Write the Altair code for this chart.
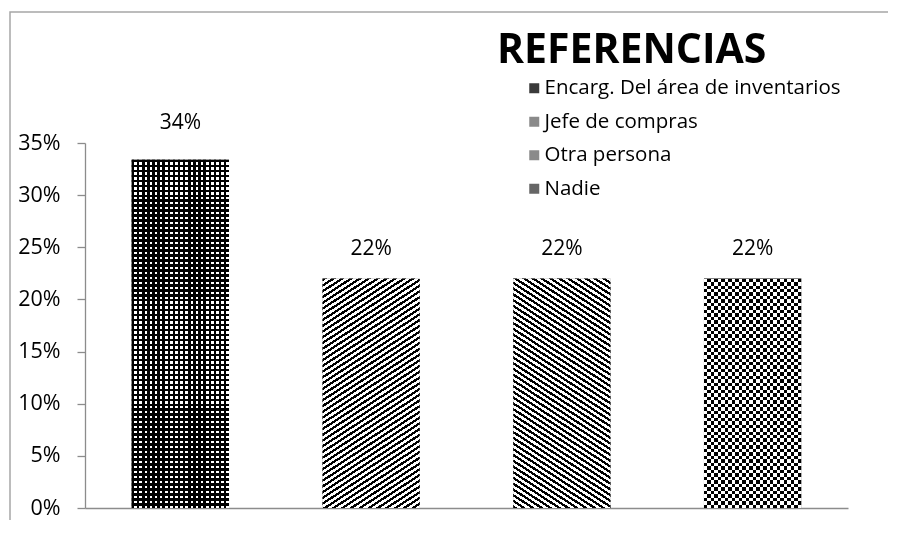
import math
import altair as alt

# ---------------- data ----------------
categories = ["Encarg. Del área de inventarios", "Jefe de compras", "Otra persona", "Nadie"]
values = [0.334, 0.22, 0.22, 0.22]
label_texts = ["34%", "22%", "22%", "22%"]
label_values = [0.34, 0.22, 0.22, 0.22]
y_ticks = [0.0, 0.05, 0.10, 0.15, 0.20, 0.25, 0.30, 0.35]
legend_grays = ["#3a3a3a", "#8a8a8a", "#8a8a8a", "#666666"]

# ---------------- layout / style ----------------
FONT = "Open Sans"
# the view is the whole (framed) chart area; the plot sits inside it
VIEW_W, VIEW_H = 898, 528
X_RANGE = [75, 838]          # plot area left/right inside the view (px)
Y_RANGE = [496, 131]         # plot area bottom/top inside the view (px)
PLOT_W = X_RANGE[1] - X_RANGE[0]
PLOT_H = Y_RANGE[0] - Y_RANGE[1]
Y_MAX = 0.35
PAD_INNER = 0.49
BAR_W = PLOT_W / len(categories) * (1 - PAD_INNER)
AXIS_GRAY = "#8c8c8c"
FRAME_GRAY = "#a6a6a6"
CLEAR = "rgba(0,0,0,0)"
PAD = {"left": 2, "top": 4, "right": -20, "bottom": -20}


def _stops(n, dark, light, duty):
    st = []
    for i in range(n):
        a = round(i / n, 6)
        b = round((i + duty) / n, 6)
        c = round((i + 1) / n, 6)
        st += [{"offset": a, "color": dark}, {"offset": b, "color": dark},
               {"offset": b, "color": light}, {"offset": c, "color": light}]
    return st


def diag(w, h, theta_deg, period, rising=True, dark="#000000", light="#ffffff", duty=0.45):
    th = math.radians(theta_deg)
    a = w * math.sin(th)
    b = h * math.cos(th)
    k = (a + b) / (a * a + b * b)
    n = max(1, round((a + b) / period))
    if rising:
        x1, y1, x2, y2 = 0, 0, k * a, k * b
    else:
        x1, y1, x2, y2 = 0, 1, k * a, 1 - k * b
    return {"gradient": "linear", "x1": x1, "y1": y1, "x2": x2, "y2": y2,
            "stops": _stops(n, dark, light, duty)}


def vstripes(w, period, dark="#000000", light="#ffffff", duty=0.5):
    n = max(1, round(w / period))
    return {"gradient": "linear", "x1": 0, "y1": 0, "x2": 1, "y2": 0,
            "stops": _stops(n, dark, light, duty)}


def hstripes(h, period, dark="#000000", light=CLEAR, duty=0.5):
    n = max(1, round(h / period))
    return {"gradient": "linear", "x1": 0, "y1": 0, "x2": 0.000001, "y2": 1,
            "stops": _stops(n, dark, light, duty)}


heights = [v / Y_MAX * PLOT_H for v in values]
base_patterns = [
    vstripes(BAR_W, 5, duty=0.5),
    diag(BAR_W, heights[1], 33, 4.8, rising=True, duty=0.47),
    diag(BAR_W, heights[2], 33, 4.8, rising=False, duty=0.47),
    vstripes(BAR_W, 7, duty=0.5),
]
# plain overlay: the bar stays white only where both stripe sets are light
overlay_patterns = [
    hstripes(heights[0], 5, dark="#000000", duty=0.5),
    CLEAR,
    CLEAR,
    CLEAR,
]
# difference overlay: turns the stripes into a checkerboard
xor_patterns = [
    CLEAR,
    CLEAR,
    CLEAR,
    hstripes(heights[3], 7, dark="#ffffff", duty=0.5),
]

records = [
    {"cat": c, "value": v, "label": t, "label_value": lv, "pat": p, "pat2": q, "pat3": r}
    for c, v, t, lv, p, q, r in zip(categories, values, label_texts, label_values,
                                    base_patterns, overlay_patterns, xor_patterns)
]
data = alt.Data(values=records)

x_enc = alt.X(
    "cat:N",
    sort=categories,
    scale=alt.Scale(domain=categories, range=X_RANGE,
                    paddingInner=PAD_INNER, paddingOuter=PAD_INNER / 2),
    axis=alt.Axis(labels=False, ticks=False, title=None, domainColor=AXIS_GRAY,
                  domainWidth=1.3, offset=-(VIEW_H - Y_RANGE[0])),
)
y_scale = alt.Scale(domain=[0, Y_MAX], range=Y_RANGE, nice=False)
y_enc = alt.Y(
    "value:Q",
    scale=y_scale,
    axis=alt.Axis(values=y_ticks, format=".0%", grid=False, title=None,
                  domainColor=AXIS_GRAY, domainWidth=1.3, tickColor=AXIS_GRAY, tickWidth=1.3,
                  tickSize=8, labelFont=FONT, labelFontSize=21.5, labelColor="#000000",
                  labelPadding=17, offset=-X_RANGE[0]),
)

base = alt.Chart(data).mark_bar().encode(
    x=x_enc,
    y=y_enc,
    fill=alt.Fill(
        "cat:N",
        scale=alt.Scale(domain=categories, range=legend_grays),
        legend=alt.Legend(
            title="REFERENCIAS", orient="none", legendX=487, legendY=19,
            titleFont=FONT, titleFontSize=41, titleFontWeight="bold", titleColor="#000000",
            titlePadding=6, titleLimit=600,
            labelFont=FONT, labelFontSize=20.5, labelColor="#000000", labelLimit=500,
            labelOffset=0, symbolType="square", symbolSize=100, symbolOffset=27,
            symbolStrokeWidth=0, rowPadding=12.5, padding=0,
        ),
    ),
)

pattern = alt.Chart(data).mark_bar().encode(
    x=x_enc, y=y_enc, fill=alt.Fill("pat:N", scale=None)
)
overlay = alt.Chart(data).mark_bar().encode(
    x=x_enc, y=y_enc, fill=alt.Fill("pat2:N", scale=None)
)
xor_overlay = alt.Chart(data).mark_bar(blend="difference").encode(
    x=x_enc, y=y_enc, fill=alt.Fill("pat3:N", scale=None)
)

labels = alt.Chart(data).mark_text(
    font=FONT, fontSize=21, color="#000000", align="center", baseline="alphabetic", dy=-24
).encode(
    x=x_enc,
    y=alt.Y("label_value:Q", scale=y_scale),
    text="label:N",
)

chart = alt.layer(base, pattern, overlay, xor_overlay, labels).properties(
    width=VIEW_W,
    height=VIEW_H,
    autosize=alt.AutoSizeParams(type="none"),
    padding=PAD,
    background="#ffffff",
).configure_view(stroke=FRAME_GRAY, strokeWidth=1.5)

chart.save("out.html", embed_options={"renderer": "svg", "actions": False})
